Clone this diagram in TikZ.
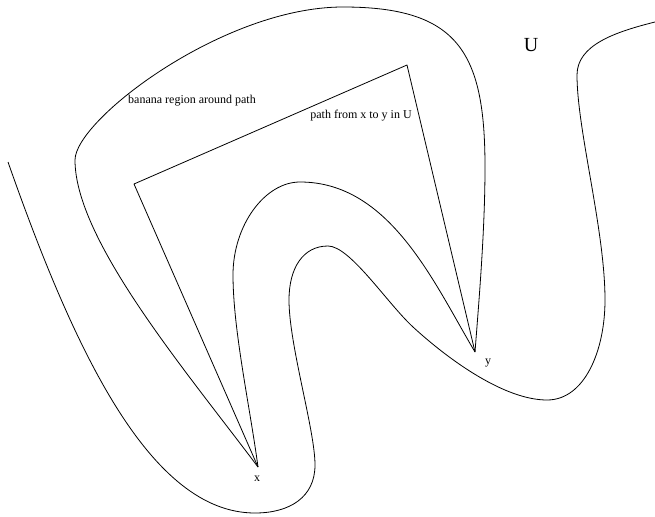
\documentclass[tikz,border=0pt]{standalone}
\usepackage{fontspec}
\setmainfont{Liberation Serif}
\begin{document}
\begin{tikzpicture}[x=1pt,y=-1pt,
  curve/.style={draw=black,line width=0.8pt,line join=round},
  lbl/.style={font=\fontsize{12}{14}\selectfont,inner sep=0pt}]
\useasboundingbox (0,0) rectangle (655,516);
\coordinate (x) at (258,467);
\coordinate (y) at (475,352);
\coordinate (p1) at (134,184);
\coordinate (p2) at (407,65);
% boundary of U
\draw[curve] (8,162) .. controls (74,350) and (150,513) .. (255,513)
  .. controls (290,513) and (315,497) .. (315,465)
  .. controls (315,430) and (289,345) .. (289,300)
  .. controls (289,268) and (303,246) .. (328,246)
  .. controls (350,246) and (387,303) .. (413,327)
  .. controls (450,361) and (505,400) .. (547,400)
  .. controls (585,400) and (605,350) .. (605,300)
  .. controls (605,230) and (577,130) .. (577,75)
  .. controls (577,45) and (615,32) .. (655,22);
% banana region
\draw[curve] (x) .. controls (186,371) and (75,240) .. (75,160)
  .. controls (75,120) and (223,7) .. (343,7)
  .. controls (458,7) and (485,52) .. (485,167)
  .. controls (485,230) and (479,300) .. (y);
\draw[curve] (y) .. controls (434,283) and (390,182) .. (300,182)
  .. controls (265,182) and (233,225) .. (233,275)
  .. controls (233,330) and (250,407) .. (x);
% path
\draw[curve] (x) -- (p1) -- (p2) -- (y);
\node[lbl] (xl) at (257,479) {x};
\node[lbl] (yl) at (488,363) {y};
\node[font=\fontsize{20}{22}\selectfont,inner sep=0pt] (U) at (531,45) {U};
\node[lbl] (banana) at (192,101) {banana region around path};
\node[lbl] (pathl) at (361,116) {path from x to y in U};
\end{tikzpicture}
\end{document}
